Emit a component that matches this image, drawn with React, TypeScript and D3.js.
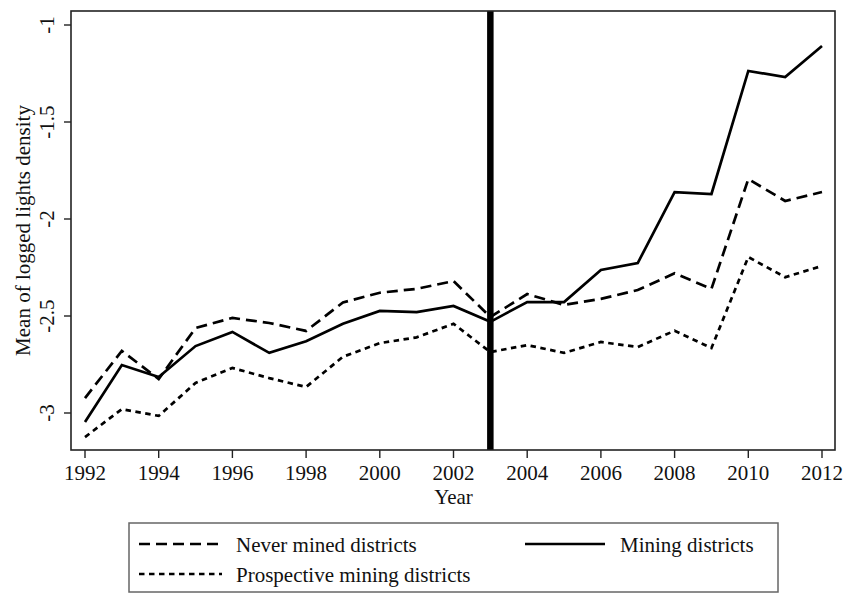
import React from 'react';
import * as d3 from 'd3';

const years = [1992, 1993, 1994, 1995, 1996, 1997, 1998, 1999, 2000, 2001, 2002,
    2003, 2004, 2005, 2006, 2007, 2008, 2009, 2010, 2011, 2012];

const mining = [-3.046, -2.753, -2.814, -2.655, -2.582, -2.69, -2.63, -2.54, -2.474, -2.48, -2.448,
    -2.53, -2.428, -2.428, -2.263, -2.227, -1.861, -1.871, -1.237, -1.268, -1.108];

const neverMined = [-2.923, -2.68, -2.825, -2.562, -2.51, -2.536, -2.577, -2.43, -2.38, -2.36, -2.32,
    -2.505, -2.387, -2.443, -2.412, -2.366, -2.28, -2.36, -1.794, -1.907, -1.861];

const prospective = [-3.124, -2.98, -3.015, -2.845, -2.768, -2.82, -2.866, -2.71, -2.64, -2.61, -2.54,
    -2.686, -2.65, -2.69, -2.634, -2.66, -2.576, -2.665, -2.196, -2.3, -2.242];

const xTicks = [1992, 1994, 1996, 1998, 2000, 2002, 2004, 2006, 2008, 2010, 2012];
const yTicks = [-3, -2.5, -2, -1.5, -1];
const cutoffYear = 2003;

const W = 847;
const H = 593;
const frame = { left: 71, right: 835, top: 11, bottom: 450 };
const font = '"Liberation Serif", "Times New Roman", serif';
const FS = 21;

const DASHED = '11,6';
const DOTTED = '5.5,4.5';

export default function App() {
    const x = d3.scaleLinear().domain([1992, 2012]).range([85, 822]);
    const y = d3.scaleLinear().domain([-3, -1]).range([413, 25]);

    const line = d3
        .line<number>()
        .x((d, i) => x(years[i]))
        .y(d => y(d));

    const series = [
        { name: 'Never mined districts', values: neverMined, dash: DASHED },
        { name: 'Mining districts', values: mining, dash: null },
        { name: 'Prospective mining districts', values: prospective, dash: DOTTED },
    ];

    return (
        <svg width={W} height={H} style={{ position: 'absolute', left: 0, top: 0, background: '#fff' }}
            fontFamily={font}>
            <rect x={0} y={0} width={W} height={H} fill="#fff" />

            {/* data lines */}
            {series.map(s => (
                <path key={s.name} d={line(s.values) || ''} fill="none" stroke="#000"
                    strokeWidth={2.7} strokeDasharray={s.dash || undefined} strokeLinejoin="miter" />
            ))}

            {/* cutoff line */}
            <line x1={x(cutoffYear)} x2={x(cutoffYear)} y1={frame.top} y2={frame.bottom}
                stroke="#000" strokeWidth={6.5} />

            {/* plot frame */}
            <rect x={frame.left} y={frame.top} width={frame.right - frame.left} height={frame.bottom - frame.top}
                fill="none" stroke="#222" strokeWidth={1.6} />

            {/* y axis */}
            {yTicks.map(t => (
                <g key={t}>
                    <line x1={frame.left - 7} x2={frame.left} y1={y(t)} y2={y(t)} stroke="#222" strokeWidth={1.4} />
                    <text transform={`translate(54,${y(t)}) rotate(-90)`} textAnchor="middle"
                        fontSize={FS} fill="#111">{t}</text>
                </g>
            ))}
            <text transform={`translate(30,${(frame.top + frame.bottom) / 2}) rotate(-90)`} textAnchor="middle"
                fontSize={FS} fill="#111">Mean of logged lights density</text>

            {/* x axis */}
            {xTicks.map(t => (
                <g key={t}>
                    <line x1={x(t)} x2={x(t)} y1={frame.bottom} y2={frame.bottom + 8} stroke="#222" strokeWidth={1.4} />
                    <text x={x(t)} y={480} textAnchor="middle" fontSize={FS} fill="#111">{t}</text>
                </g>
            ))}
            <text x={x(2002)} y={504} textAnchor="middle" fontSize={FS} fill="#111">Year</text>

            {/* legend */}
            <rect x={129} y={523} width={649} height={69} fill="none" stroke="#666" strokeWidth={1.5} />
            <line x1={139} x2={222} y1={544} y2={544} stroke="#000" strokeWidth={2.6} strokeDasharray={DASHED} />
            <text x={236} y={552} fontSize={FS} fill="#111">{series[0].name}</text>
            <line x1={525} x2={605} y1={544} y2={544} stroke="#000" strokeWidth={2.6} />
            <text x={620} y={552} fontSize={FS} fill="#111">{series[1].name}</text>
            <line x1={139} x2={222} y1={574} y2={574} stroke="#000" strokeWidth={2.6} strokeDasharray={DOTTED} />
            <text x={236} y={582} fontSize={FS} fill="#111">{series[2].name}</text>
        </svg>
    );
}
